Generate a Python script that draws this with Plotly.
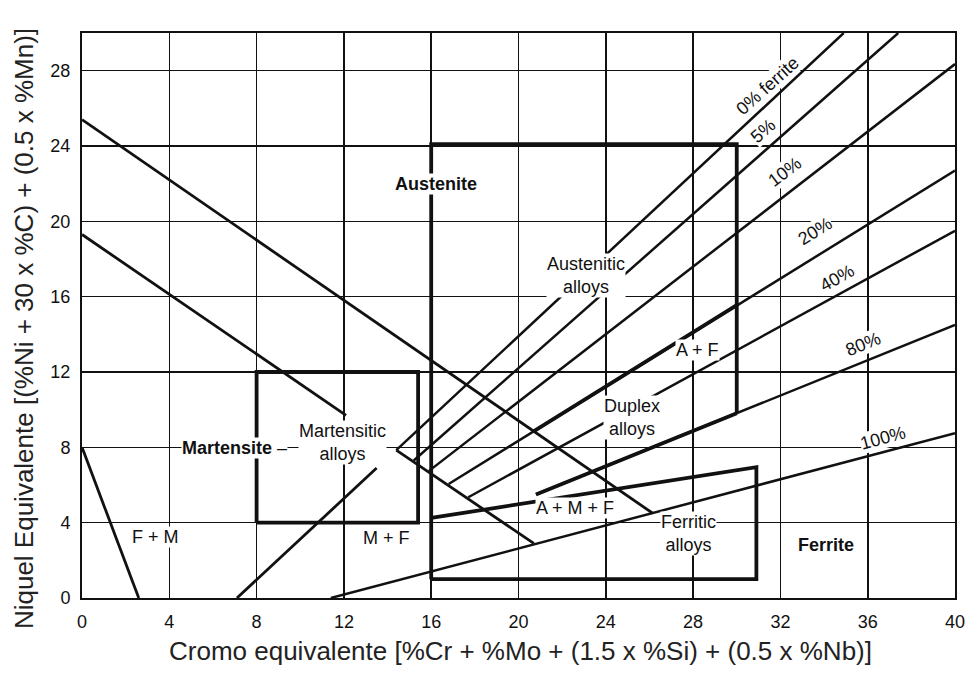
import plotly.graph_objects as go

# ---------------- data ----------------
x_ticks = [0, 4, 8, 12, 16, 20, 24, 28, 32, 36, 40]
y_ticks = [0, 4, 8, 12, 16, 20, 24, 28]

# iso-ferrite lines (start -> end)
ferrite_names = ["0% ferrite", "5%", "10%", "20%", "40%", "80%", "100%"]
ferrite_x0 = [14.4, 15.2, 15.9, 16.8, 17.7, 20.8, 11.4]
ferrite_y0 = [7.85, 7.3, 6.75, 6.05, 5.35, 5.5, 0.0]
ferrite_x1 = [34.9, 37.4, 40.0, 40.0, 40.0, 40.0, 40.0]
ferrite_y1 = [30.0, 30.0, 28.35, 22.7, 19.5, 14.5, 8.75]
# label positions / angles of the ferrite lines
ferrite_lab_x = [31.4, 31.2, 32.2, 33.6, 34.6, 35.8, 36.7]
ferrite_lab_y = [27.2, 24.8, 22.6, 19.5, 17.0, 13.5, 8.5]
ferrite_lab_ang = [-42, -41, -37, -32, -29, -22, -15]

# other phase boundaries (start -> end)
bound_names = ["A+M", "M upper", "M+F", "F+M", "AMF lower"]
bound_x0 = [0.0, 0.0, 7.1, 0.0, 14.4]
bound_y0 = [25.4, 19.3, 0.0, 8.0, 7.85]
bound_x1 = [26.15, 12.1, 13.5, 2.6, 20.7]
bound_y1 = [4.5, 9.7, 6.9, 0.0, 2.9]

# heavy duplex boundaries (segments of the 20% and 80% lines)
duplex_x0 = [20.69, 20.8]
duplex_y0 = [8.85, 5.5]
duplex_x1 = [30.0, 30.0]
duplex_y1 = [15.55, 9.81]

# alloy range boxes
mart_box_x = [8, 15.4, 15.4, 8, 8]
mart_box_y = [4, 4, 12, 12, 4]
aus_box_x = [16, 16, 30, 30]
aus_box_y = [1.0, 24.1, 24.1, 9.81]
ferr_box_x = [16, 30.9, 30.9, 16]
ferr_box_y = [1.0, 1.0, 6.95, 4.25]

# region labels
reg_text = ["<b>Austenite</b>", "Austenitic<br>alloys", "Duplex<br>alloys", "A + F",
            "A + M + F", "Ferritic<br>alloys", "<b>Ferrite</b>", "Martensitic<br>alloys",
            "<b>Martensite</b> –", "F + M", "M + F"]
reg_x = [16.2, 23.1, 25.2, 28.2, 22.6, 27.8, 34.1, 11.95, 7.0, 3.35, 13.95]
reg_y = [22.0, 17.1, 9.6, 13.15, 4.77, 3.45, 2.8, 8.27, 7.95, 3.23, 3.2]

x_title = "Cromo equivalente [%Cr + %Mo + (1.5 x %Si) + (0.5 x %Nb)]"
y_title = "Niquel Equivalente [(%Ni + 30 x %C) + (0.5 x %Mn)]"

# ---------------- figure ----------------
FONT = "Liberation Sans, Arial, sans-serif"
INK = "#111111"
fig = go.Figure()


def add_seg(xs, ys, width):
    fig.add_trace(go.Scatter(x=xs, y=ys, mode="lines",
                             line=dict(color=INK, width=width),
                             hoverinfo="skip", showlegend=False))


for i in range(len(ferrite_names)):
    add_seg([ferrite_x0[i], ferrite_x1[i]], [ferrite_y0[i], ferrite_y1[i]], 2.5)
for i in range(len(bound_names)):
    add_seg([bound_x0[i], bound_x1[i]], [bound_y0[i], bound_y1[i]], 2.8)
for i in range(len(duplex_x0)):
    add_seg([duplex_x0[i], duplex_x1[i]], [duplex_y0[i], duplex_y1[i]], 3.8)
add_seg(mart_box_x, mart_box_y, 3.8)
add_seg(aus_box_x, aus_box_y, 3.8)
add_seg(ferr_box_x, ferr_box_y, 3.8)

annotations = []
for i, name in enumerate(ferrite_names):
    annotations.append(dict(x=ferrite_lab_x[i], y=ferrite_lab_y[i], text=name,
                            textangle=ferrite_lab_ang[i], showarrow=False,
                            bgcolor="white", borderpad=0,
                            font=dict(family=FONT, size=18, color=INK)))
for t, x, y in zip(reg_text, reg_x, reg_y):
    annotations.append(dict(x=x, y=y, text=t, showarrow=False, bgcolor="white",
                            borderpad=0,
                            font=dict(family=FONT, size=18, color=INK)))
annotations.append(dict(xref="paper", yref="paper", x=0.502, y=-0.094, text=x_title,
                        showarrow=False, xanchor="center", yanchor="middle",
                        font=dict(family=FONT, size=26, color="#222222")))
annotations.append(dict(xref="paper", yref="paper", x=-0.0664, y=0.476, text=y_title,
                        textangle=-90, showarrow=False, xanchor="center", yanchor="middle",
                        font=dict(family=FONT, size=26, color="#222222")))

fig.update_layout(
    width=967, height=673,
    margin=dict(l=82, r=12, t=33, b=75, autoexpand=False),
    paper_bgcolor="white", plot_bgcolor="white",
    annotations=annotations,
    showlegend=False,
)
fig.update_xaxes(range=[0, 40], tickvals=x_ticks, ticktext=[str(v) for v in x_ticks],
                 showgrid=True, gridcolor=INK, gridwidth=1.6, zeroline=False,
                 showline=True, linecolor=INK, linewidth=2, mirror=True,
                 ticks="", ticklabelstandoff=6, automargin=False,
                 tickfont=dict(family=FONT, size=18, color=INK))
fig.update_yaxes(range=[0, 30], tickvals=y_ticks, ticktext=[str(v) for v in y_ticks],
                 showgrid=True, gridcolor=INK, gridwidth=1.6, zeroline=False,
                 showline=True, linecolor=INK, linewidth=2, mirror=True,
                 ticks="", ticklabelstandoff=6, automargin=False,
                 tickfont=dict(family=FONT, size=18, color=INK))

# remove the default page margin so the figure fills the window exactly
fig.write_html("out.html",
               config={"displayModeBar": False, "staticPlot": True},
               post_script="document.body.style.margin='0';document.body.style.overflow='hidden';")
